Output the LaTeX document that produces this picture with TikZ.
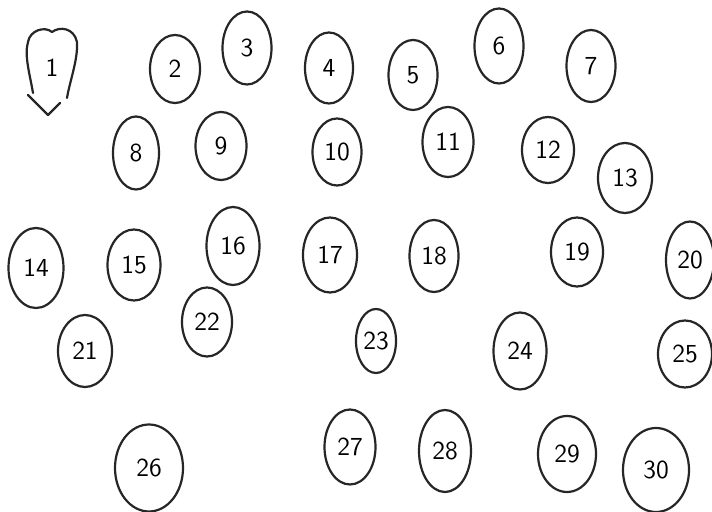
\documentclass[tikz,border=0pt]{standalone}
\usetikzlibrary{shapes.geometric}
\begin{document}
\begin{tikzpicture}[x=0.5pt,y=-0.5pt,
  pen/.style={draw=black!85, line width=1.1pt, line cap=round, line join=round},
  blob/.style={pen, ellipse, inner sep=0pt, font=\sffamily\fontsize{13}{15}\selectfont},
  sz/.style 2 args={minimum width=#1*0.5pt, minimum height=#2*0.5pt},
  lbl/.style={font=\sffamily\fontsize{13}{15}\selectfont, inner sep=0pt}]
\useasboundingbox[fill=white] (0,0) rectangle (712,512);
% node 1 (open outline)
\node[lbl] (n1) at (52,68) {1};
\draw[pen] (33,93) .. controls (30,75) and (24,55) .. (28,42)
  .. controls (30,30) and (45,26) .. (52,32)
  .. controls (60,26) and (74,28) .. (77,42)
  .. controls (78,60) and (70,80) .. (67,98);
\draw[pen] (28,95) -- (48,115) -- (60,103);
% row 1
\node[blob, sz={50}{68}] (n2) at (175,69) {2};
\node[blob, sz={49}{73}] (n3) at (247,48) {3};
\node[blob, sz={48}{71}] (n4) at (329,68) {4};
\node[blob, sz={49}{70}] (n5) at (413,75) {5};
\node[blob, sz={49}{75}] (n6) at (499,46) {6};
\node[blob, sz={49}{72}] (n7) at (591,66) {7};
% row 2
\node[blob, sz={46}{73}] (n8) at (136,153) {8};
\node[blob, sz={51}{68}] (n9) at (221,146) {9};
\node[blob, sz={49}{67}] (n10) at (337,152) {10};
\node[blob, sz={51}{70}] (n11) at (448,142) {11};
\node[blob, sz={52}{66}] (n12) at (548,150) {12};
\node[blob, sz={54}{70}] (n13) at (625,178) {13};
% row 3
\node[blob, sz={55}{80}] (n14) at (36,268) {14};
\node[blob, sz={53}{71}] (n15) at (134,265) {15};
\node[blob, sz={53}{78}] (n16) at (233,246) {16};
\node[blob, sz={54}{75}] (n17) at (330,255) {17};
\node[blob, sz={49}{72}] (n18) at (434,256) {18};
\node[blob, sz={52}{69}] (n19) at (577,252) {19};
\node[blob, sz={48}{77}] (n20) at (690,260) {20};
% row 4
\node[blob, sz={54}{72}] (n21) at (85,351) {21};
\node[blob, sz={50}{69}] (n22) at (207,322) {22};
\node[blob, sz={40}{64}] (n23) at (376,341) {23};
\node[blob, sz={53}{77}] (n24) at (520,351) {24};
\node[blob, sz={54}{67}] (n25) at (685,354) {25};
% row 5
\node[blob, sz={68}{87}] (n26) at (149,468) {26};
\node[blob, sz={51}{75}] (n27) at (350,447) {27};
\node[blob, sz={52}{82}] (n28) at (445,451) {28};
\node[blob, sz={58}{76}] (n29) at (567,454) {29};
\node[blob, sz={66}{84}] (n30) at (656,470) {30};
\end{tikzpicture}
\end{document}
